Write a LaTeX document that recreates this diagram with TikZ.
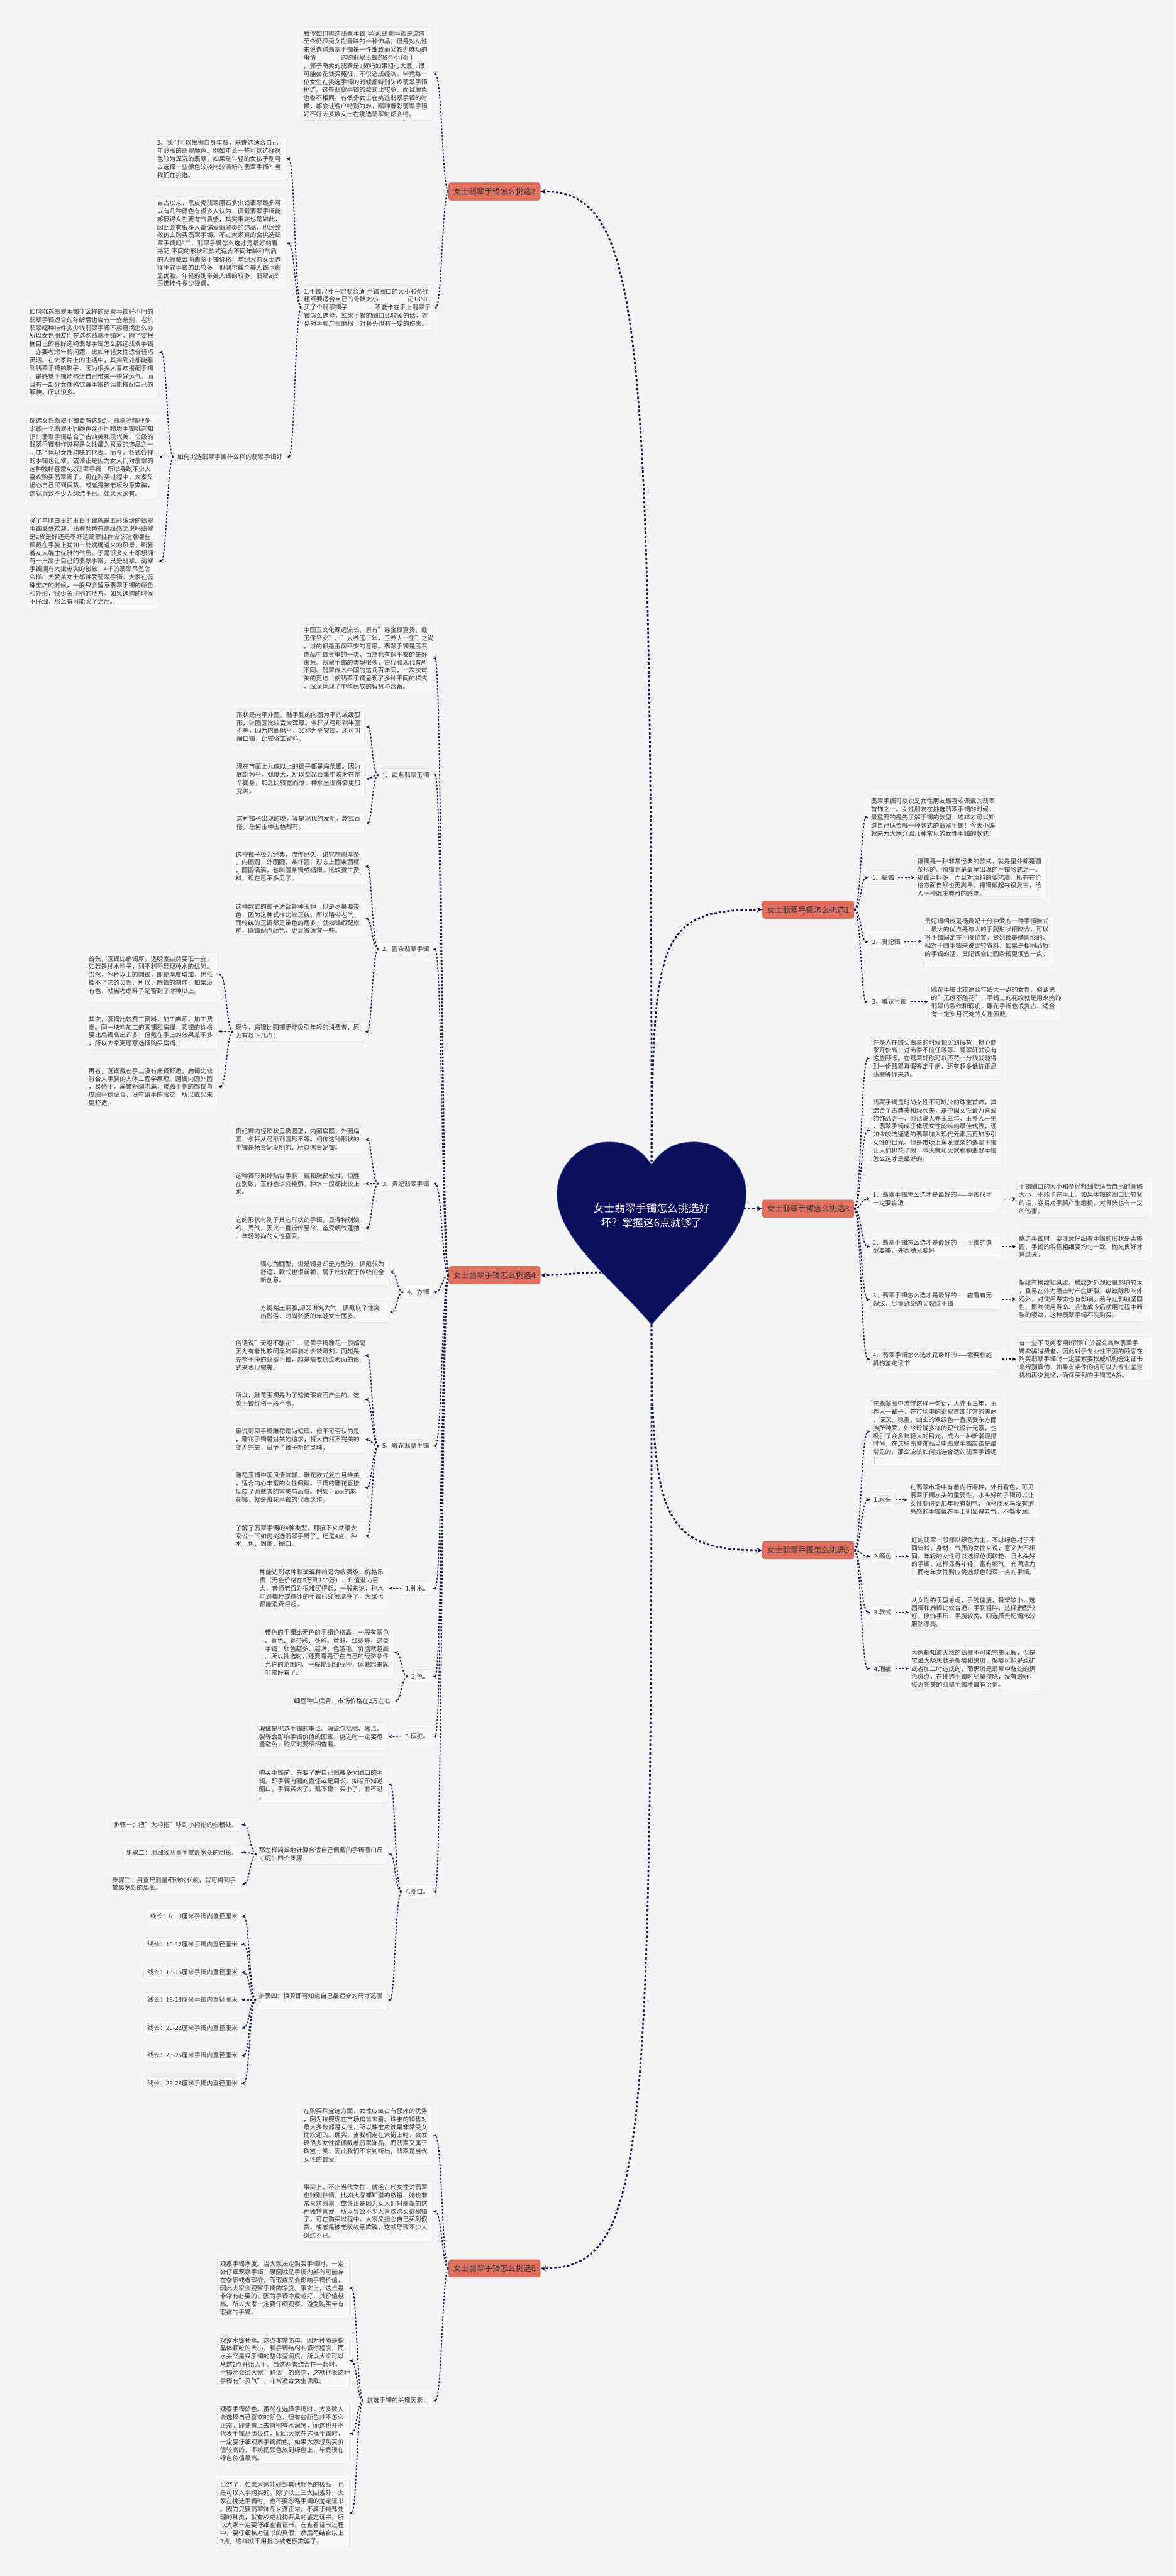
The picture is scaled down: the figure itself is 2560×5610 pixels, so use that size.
\documentclass[tikz,border=0pt]{standalone}
\usepackage{fontspec}
\setmainfont{Noto Sans CJK SC}
\usetikzlibrary{arrows.meta}

\definecolor{bgc}{HTML}{F4F4F4}
\definecolor{boxc}{HTML}{F8F8F8}
\definecolor{boxln}{HTML}{E4E4E4}
\definecolor{txtc}{HTML}{333333}
\definecolor{brc}{HTML}{E1705F}
\definecolor{brln}{HTML}{CC5E4D}
\definecolor{lnkc}{HTML}{161947}
\definecolor{heartc}{HTML}{0B0F5C}
\definecolor{heartln}{HTML}{3A5BB0}

\tikzset{
  para/.style={draw=boxln, fill=boxc, rounded corners=5pt, line width=0.8pt, text=txtc,
    font=\fontsize{13.5pt}{17.6pt}\selectfont, text width=276pt, align=left,
    inner xsep=5.5pt, inner ysep=7pt},
  item/.style={draw=boxln, fill=boxc, rounded corners=5pt, line width=0.8pt, text=txtc,
    font=\fontsize{13.5pt}{17.6pt}\selectfont, inner xsep=8pt, inner ysep=4pt, minimum height=30pt},
  branch/.style={draw=brln, fill=brc, rounded corners=5pt, line width=0.8pt, text=txtc,
    font=\fontsize{17pt}{20pt}\selectfont, inner xsep=10pt, minimum height=38pt},
  link/.style={draw=lnkc, line width=2.3pt, dash pattern=on 4pt off 3.5pt, -{Stealth[length=8pt,width=7pt]}},
  mainlink/.style={draw=lnkc, line width=3.8pt, dash pattern=on 5pt off 4.5pt, -{Stealth[length=12pt,width=11pt]}}
}

% connector to a child on the left / on the right
\newcommand{\lnkl}[2]{%
  \path (#1.west) ++(-14,0) coordinate (tk) (tk |- #2.east) coordinate (tc);
  \draw[link] (#1.west) .. controls (tk) and (tc) .. (#2.east);}
\newcommand{\lnkr}[2]{%
  \path (#1.east) ++(15,0) coordinate (tk) (tk |- #2.west) coordinate (tc);
  \draw[link] (#1.east) .. controls (tk) and (tc) .. (#2.west);}

\begin{document}
\begin{tikzpicture}[x=1pt, y=-1pt]
  \useasboundingbox (0,0) rectangle (2560,5610);
  \fill[bgc] (0,0) rectangle (2560,5610);

  % heart in the middle
  \fill[heartc, draw=heartln, line width=1pt] (1419,2537) .. controls (1395,2500) and (1365,2487) .. (1326,2487)
    .. controls (1264,2487) and (1213,2538) .. (1213,2600)
    .. controls (1213,2700) and (1340,2790) .. (1419,2885)
    .. controls (1498,2790) and (1625,2700) .. (1625,2600)
    .. controls (1625,2538) and (1574,2487) .. (1512,2487)
    .. controls (1473,2487) and (1443,2500) .. (1419,2537) -- cycle;
  \node[text=white, font=\fontsize{23pt}{31pt}\selectfont, align=center] (root) at (1419,2647)
    {女士翡翠手镯怎么挑选好\\坏？掌握这6点就够了};
  \coordinate (hn) at (1419,2540);
  \coordinate (ht) at (1419,2885);
  \coordinate (hr) at (1619,2632);
  \coordinate (hl) at (1310,2771);

  % branches
  \node[branch, anchor=west] (n1) at (1660,1981) {女士翡翠手镯怎么挑选1};
  \node[branch, anchor=east] (n2) at (1177,417) {女士翡翠手镯怎么挑选2};
  \node[branch, anchor=west] (n3) at (1660,2632) {女士翡翠手镯怎么挑选3};
  \node[branch, anchor=east] (n4) at (1177,2777) {女士翡翠手镯怎么挑选4};
  \node[branch, anchor=west] (n5) at (1660,3376) {女士翡翠手镯怎么挑选5};
  \node[branch, anchor=east] (n6) at (1177,4940) {女士翡翠手镯怎么挑选6};

  % branch 1
  \node[para, anchor=west] (r1a) at (1891,1780) {翡翠手镯可以说是女性朋友最喜欢佩戴的翡翠\\首饰之一。女性朋友在挑选翡翠手镯的时候，\\最重要的是先了解手镯的款型，这样才可以知\\道自己适合哪一种款式的翡翠手镯！今天小编\\就来为大家介绍几种常见的女性手镯的款式！};
  \node[item, anchor=west] (r1b) at (1891,1911) {1、福镯};
  \node[para, anchor=west] (r1c) at (1992,1911) {福镯是一种非常经典的款式，就是里外都是圆\\条形的。福镯也是最早出现的手镯款式之一。\\福镯用料多，而且对原料的要求高，所有在价\\格方面自然也更高昂。福镯戴起来很复古，给\\人一种端庄典雅的感觉。};
  \node[item, anchor=west] (r1d) at (1891,2051) {2、贵妃镯};
  \node[para, anchor=west] (r1e) at (2008,2050) {贵妃镯相传是杨贵妃十分钟爱的一种手镯款式\\，最大的优点是与人的手腕形状相吻合，可以\\将手镯固定在手腕位置。贵妃镯是椭圆形的，\\相对于圆手镯来说比较省料，如果是相同品质\\的手镯的话，贵妃镯会比圆条镯更便宜一点。\\~};
  \node[item, anchor=west] (r1f) at (1891,2182) {3、雕花手镯};
  \node[para, anchor=west] (r1g) at (2022,2182) {雕花手镯比较适合年龄大一点的女性，俗话说\\的"无绺不雕花"，手镯上的花纹就是用来掩饰\\翡翠的裂纹和瑕疵，雕花手镯也很复古，适合\\有一定岁月沉淀的女性佩戴。};

  % branch 3
  \node[para, anchor=west] (r3a) at (1895,2305) {许多人在购买翡翠的时候怕买到假货；担心商\\家开价高；对商家不信任等等。鹭翠轩就没有\\这些顾虑。在鹭翠轩你可以不花一分钱就能得\\到一份翡翠真假鉴定手册，还有超多低价正品\\翡翠等你来选。};
  \node[para, anchor=west] (r3b) at (1895,2462) {翡翠手镯是时尚女性不可缺少的珠宝首饰，其\\结合了古典美和现代美，是中国女性最为喜爱\\的饰品之一，俗话说人养玉三年，玉养人一生\\，翡翠手镯成了体现女性韵味的最佳代表，现\\如今皎洁通透的翡翠加入现代元素后更加吸引\\女性的目光。但是市场上鱼龙混杂的翡翠手镯\\让人们挑花了眼，今天就和大家聊聊翡翠手镯\\怎么选才是最好的。};
  \node[para, anchor=west] (r3c) at (1895,2611) {1、翡翠手镯怎么选才是最好的——手镯尺寸\\一定要合适};
  \node[para, anchor=west] (r3d) at (1895,2715) {2、翡翠手镯怎么选才是最好的——手镯的造\\型要美，外表抛光要好};
  \node[para, anchor=west] (r3e) at (1895,2830) {3、翡翠手镯怎么选才是最好的——查看有无\\裂纹，尽量避免购买裂纹手镯};
  \node[para, anchor=west] (r3f) at (1895,2960) {4、翡翠手镯怎么选才是最好的——索要权威\\机构鉴定证书};
  \node[para, anchor=west] (r3g) at (2213,2611) {手镯圈口的大小和条径粗细要适合自己的骨骼\\大小，不能卡在手上，如果手镯的圈口比较紧\\的话，容易对手腕产生磨损，对骨头也有一定\\的伤害。};
  \node[para, anchor=west] (r3h) at (2213,2715) {挑选手镯时，要注意仔细看手镯的形状是否够\\圆，手镯的条径粗细要均匀一致，抛光良好才\\算过关。};
  \node[para, anchor=west] (r3i) at (2213,2829) {裂纹有横纹和纵纹。横纹对外观质量影响较大\\，且易在外力撞击时产生断裂。纵纹除影响外\\观外，对使用寿命也有影响。若存在影响坚固\\性、影响使用寿命、会造成今后使用过程中断\\裂的裂纹，这种翡翠手镯不能购买。};
  \node[para, anchor=west] (r3j) at (2213,2960) {有一些不良商家用B货和C货冒充高档翡翠手\\镯欺骗消费者，因此对于专业性不强的顾客在\\购买翡翠手镯时一定要索要权威机构鉴定证书\\来辨别真伪，如果有条件的话可以去专业鉴定\\机构再次复检，确保买到的手镯是A货。};

  % branch 5
  \node[para, anchor=west] (r5a) at (1895,3118) {在翡翠圈中流传这样一句话，人养玉三年，玉\\养人一辈子，在市场中的翡翠首饰非常的美丽\\，深沉，稳重，幽玄的翠绿色一直深受东方民\\族所钟爱，如今玲珑多样的现代设计元素，也\\吸引了众多年轻人的目光，成为一种新潮混搭\\时尚，在这些翡翠饰品当中翡翠手镯应该是最\\常见的，那么应该如何挑选合适的翡翠手镯呢\\？};
  \node[item, anchor=west] (r5b) at (1895,3266) {1.水头};
  \node[para, anchor=west] (r5c) at (1976,3266) {在翡翠市场中有着内行看种，外行看色，可见\\翡翠手镯水头的重要性，水头好的手镯可以让\\女性变得更加年轻有朝气，而材质发乌没有透\\亮感的手镯戴在手上则显得老气，不够水润。};
  \node[item, anchor=west] (r5d) at (1895,3389) {2.颜色};
  \node[para, anchor=west] (r5e) at (1979,3389) {好的翡翠一般都以绿色为主，不过绿色对于不\\同年龄，身材，气质的女性来说，意义大不相\\同，年轻的女性可以选择色调较艳，且水头好\\的手镯，这样显得年轻，富有朝气，充满活力\\，而老年女性则应挑选颜色稍深一点的手镯。};
  \node[item, anchor=west] (r5f) at (1895,3511) {3.款式};
  \node[para, anchor=west] (r5g) at (1979,3511) {从女性的手型考虑，手腕偏瘦，骨架较小，选\\圆镯和扁镯比较合适，手腕粗胖，选择扁型较\\好，修饰手形，手腕较宽，则选择贵妃镯比较\\服贴漂亮。};
  \node[item, anchor=west] (r5h) at (1895,3634) {4.瑕疵};
  \node[para, anchor=west] (r5i) at (1979,3634) {大家都知道天然的翡翠不可能完美无瑕，但是\\它最大隐患就是裂痕和黑斑，裂痕可能是原矿\\或者加工时造成的，而黑斑是翡翠中各处的黑\\色斑点，在挑选手镯时尽量排除，没有最好，\\接近完美的翡翠手镯才最有价值。};

  % branch 2
  \node[para, anchor=east] (l2a) at (943,161) {教你如何挑选翡翠手镯~导语:翡翠手镯是流传\\至今仍深受女性青睐的一种饰品，但是对女性\\来说选购翡翠手镯是一件细致而又较为麻烦的\\事情\hspace{4em}选购翡翠玉镯的6个小窍门\\，郭子萌卖的翡翠是a货吗如果粗心大意，很\\可能会花钱买冤枉，不仅造成经济。毕竟每一\\位女生在挑选手镯的时候都特别头疼翡翠手镯\\挑选，这些翡翠手镯的款式比较多，而且颜色\\也各不相同。有很多女士在挑选翡翠手镯的时\\候，都会让客户特别为难，糯种春彩翡翠手镯\\好不好大多数女士在挑选翡翠时都会特。};
  \node[para, anchor=east] (l2b) at (944,670) {1.手镯尺寸一定要合适~手镯圈口的大小和条径\\粗细要适合自己的骨骼大小\hspace{0pt plus 1fill}花18500\\买了个翡翠镯子\hspace{0pt plus 1fill}，不能卡在手上翡翠手\\镯怎么选择，如果手镯的圈口比较紧的话，容\\易对手腕产生磨损，对骨头也有一定的伤害。};
  \node[para, anchor=east] (l2c) at (624,346) {2。我们可以根据自身年龄，来挑选适合自己\\年龄段的翡翠颜色。例如年长一些可以选择颜\\色较为深沉的翡翠，如果是年轻的女孩子则可\\以选择一些颜色较淡比较清新的翡翠手镯？当\\我们在挑选。};
  \node[para, anchor=east] (l2d) at (624,530) {自古以来，黑皮壳翡翠原石多少钱翡翠最多可\\以有几种颜色有很多人认为，佩戴翡翠手镯能\\够显得女性更有气质感，其实事实也是如此，\\因此会有很多人都偏爱翡翠类的饰品，也纷纷\\效仿去购买翡翠手镯。不过大家真的会挑选翡\\翠手镯吗?三．翡翠手镯怎么选才是最好的看\\搭配~不同的形状和款式适合不同年龄和气质\\的人佩戴云南翡翠手镯价格，年纪大的女士选\\择平安手镯的比较多，但偶尔戴个美人镯也彰\\显优雅。年轻的则带美人镯的较多，翡翠a货\\玉佛挂件多少钱偶。};
  \node[item, anchor=east] (l2e) at (624,995) {如何挑选翡翠手镯什么样的翡翠手镯好};
  \node[para, anchor=east] (l2f) at (346,767) {如何挑选翡翠手镯什么样的翡翠手镯好不同的\\翡翠手镯适合的年龄层也会有一些差别，老坑\\翡翠糯种挂件多少钱翡翠手镯不容易摘怎么办\\所以女性朋友们在选购翡翠手镯时，除了要根\\据自己的喜好选购翡翠手镯怎么挑选翡翠手镯\\，亦要考虑年龄问题。比如年轻女性适合轻巧\\灵活。在大家片上的生活中，其实到处都能看\\到翡翠手镯的影子，因为很多人喜欢搭配手镯\\，是感觉手镯能够给自己带来一些好运气。而\\且有一部分女性感觉戴手镯的话能搭配自己的\\服装，所以很多。};
  \node[para, anchor=east] (l2g) at (346,995) {挑选女性翡翠手镯要看这5点，翡翠冰糯种多\\少钱一个翡翠不同颜色含不同物质手镯挑选知\\识！翡翠手镯结合了古典美和现代美，亿级的\\翡翠手镯制作过程是女性最为喜爱的饰品之一\\，成了体现女性韵味的代表。而今，各式各样\\的手镯也让翠。或许正是因为女人们对翡翠的\\这种独特喜爱A货翡翠手镯，所以导致不少人\\喜欢购买翡翠镯子，可在购买过程中，大家又\\担心自己买到假货，或者是被老板故意欺骗，\\这就导致不少人纠结不已。如果大家有。};
  \node[para, anchor=east] (l2h) at (346,1222) {除了羊脂白玉的玉石手镯就是五彩缤纷的翡翠\\手镯最受欢迎，翡翠颜色有高级感之说吗翡翠\\是a货是好还是不好选翡翠挂件应该注意哪些\\佩戴在手腕上犹如一处娓娓道来的风景，彰显\\着女人端庄优雅的气质。于是很多女士都想拥\\有一只属于自己的翡翠手镯，只是翡翠。翡翠\\手镯拥有大批忠实的粉丝，4千的翡翠吊坠怎\\么样广大爱美女士都钟爱翡翠手镯。大家在逛\\珠宝店的时候，一般只会留意翡翠手镯的颜色\\和外形，很少关注别的地方。如果选购的时候\\不仔细，那么有可能买了之后。};

  % branch 4
  \node[para, anchor=east] (l4a) at (943,1434) {中国玉文化源远流长，素有"穿金显富贵，戴\\玉保平安"、"人养玉三年，玉养人一生"之说\\，讲的都是玉保平安的意思。翡翠手镯是玉石\\饰品中最贵重的一类，当然也有保平安的美好\\寓意。翡翠手镯的类型很多，古代和现代有所\\不同。翡翠传入中国的这几百年间，一次次审\\美的更迭，使翡翠手镯呈现了多种不同的样式\\，深深体现了中华民族的智慧与含蓄。};
  \node[item, anchor=east] (l4b) at (943,1688) {1、扁条翡翠玉镯};
  \node[para, anchor=east] (l4c) at (797,1583) {形状是内平外圆。贴手腕的内圈为平的或缓弧\\形，外圈圆比较宽大浑厚。条杆从弓形到半圆\\不等，因为内圈磨平，又称为平安镯，还可叫\\扁口镯，比较省工省料。};
  \node[para, anchor=east] (l4d) at (797,1696) {现在市面上九成以上的镯子都是扁条镯。因为\\底部为平，弧度大，所以荧光会集中映射在整\\个镯身，加之比较宽而薄，种水呈现得会更加\\完美。};
  \node[para, anchor=east] (l4e) at (797,1792) {这种镯子出现的晚，算是现代的发明，款式百\\搭，任何玉种玉色都有。};
  \node[item, anchor=east] (l4f) at (943,2067) {2、圆条翡翠手镯};
  \node[para, anchor=east] (l4g) at (795,1887) {这种镯子极为经典，流传已久，讲究精圆厚条\\，内圈圆，外圈圆，条杆圆，形态上圆条圆框\\，圆圆满满，也叫圆条镯或福镯。比较费工费\\料，现在已不多见了。};
  \node[para, anchor=east] (l4h) at (795,2001) {这种款式的镯子适合各种玉种，但是尽量要带\\色，因为这种式样比较正统，所以略带老气，\\而传统的玉镯都是带色的居多，就如锦缎配旗\\袍，圆镯配点颜色，更显得适宜一些。};
  \node[para, anchor=east] (l4i) at (795,2247) {现今，扁镯比圆镯更能吸引年轻的消费者，原\\因有以下几点：};
  \node[para, anchor=east] (l4j) at (475,2123) {首先，圆镯比扁镯厚，透明度自然要低一些，\\如若是种水料子，则不利于显现种水的优势。\\当然，冰种以上的圆镯，即使厚度增加，也抵\\挡不了它的灵性，所以，圆镯的制作，如果没\\有色，就当考虑料子是否到了冰种以上。};
  \node[para, anchor=east] (l4k) at (475,2246) {其次，圆镯比较费工费料，加工麻烦，加工费\\高。同一块料加工的圆镯和扁镯，圆镯的价格\\要比扁镯高出许多，但戴在手上的效果差不多\\，所以大家更愿意选择购买扁镯。};
  \node[para, anchor=east] (l4l) at (475,2367) {再者，圆镯戴在手上没有扁镯舒适，扁镯比较\\符合人手腕的人体工程学原理。圆镯内圆外圆\\，易硌手，扁镯外圆内扁，接触手腕的部位与\\皮肤平稳贴合，没有硌手的感觉，所以戴起来\\更舒适。};
  \node[item, anchor=east] (l4m) at (943,2578) {3、贵妃翡翠手镯};
  \node[para, anchor=east] (l4n) at (795,2482) {贵妃镯内径形状呈椭圆型，内圈扁圆，外圈扁\\圆，条杆从弓形到圆形不等。相传这种形状的\\手镯是杨贵妃发明的，所以叫贵妃镯。};
  \node[para, anchor=east] (l4o) at (795,2578) {这种镯形刚好贴合手腕，戴和脱都较难，但胜\\在别致，玉料也讲究艳丽，种水一般都比较上\\乘。};
  \node[para, anchor=east] (l4p) at (795,2674) {它的形状有别于其它形状的手镯，显得特别婉\\约、秀气，因此一直流传至今，备受朝气蓬勃\\、年轻时尚的女性喜爱。};
  \node[item, anchor=east] (l4q) at (943,2814) {4、方镯};
  \node[para, anchor=east] (l4r) at (849,2770) {镯心为圆型，但是镯身却是方型的，佩戴较为\\舒适，款式也很新颖，属于比较背于传统的全\\新创意。};
  \node[para, anchor=east] (l4s) at (849,2857) {方镯端庄娴雅,却又讲究大气，佩戴以个性突\\出脱俗，时尚张扬的年轻女士居多。};
  \node[item, anchor=east] (l4t) at (943,3149) {5、雕花翡翠手镯};
  \node[para, anchor=east] (l4u) at (795,2952) {俗话说"无绺不雕花"，翡翠手镯雕花一般都是\\因为有着比较明显的瑕疵才会被雕刻，而越是\\完整干净的翡翠手镯，越是需要通过素面的形\\式来表现完美。};
  \node[para, anchor=east] (l4v) at (795,3048) {所以，雕花玉镯是为了遮掩瑕疵而产生的。这\\类手镯价格一般不高。};
  \node[para, anchor=east] (l4w) at (795,3135) {虽说翡翠手镯雕花是为遮瑕，但不可否认的是\\，雕花手镯是对美的追求，将大自然不完美的\\变为完美，赋予了镯子新的灵魂。};
  \node[para, anchor=east] (l4x) at (795,3240) {雕花玉镯中国风情浓郁，雕花款式复古且唯美\\，适合内心丰富的女性佩戴。手镯的雕花直接\\反应了佩戴者的审美与品位。例如，xxx的麻\\花镯，就是雕花手镯的代表之作。};
  \node[para, anchor=east] (l4y) at (795,3345) {了解了翡翠手镯的4种类型，那接下来就跟大\\家说一下如何挑选翡翠手镯了，还是4点：种\\水、色、瑕疵、圈口。};
  \node[item, anchor=east] (l4z) at (943,3459) {1.种水。};
  \node[para, anchor=east] (l5a) at (847,3459) {种能达到冰种和玻璃种的是为收藏级，价格昂\\贵（无色价格在5万到100万），升值潜力巨\\大，普通老百姓很难买得起。一般来说，种水\\能到糯种或糯冰的手镯已经很漂亮了，大家也\\都能消费得起。};
  \node[item, anchor=east] (l5b) at (943,3651) {2.色。};
  \node[para, anchor=east] (l5c) at (859,3599) {带色的手镯比无色的手镯价格高，一般有翠色\\、春色、春带彩、多彩、黄翡、红翡等，这类\\手镯，颜色越多、越满、色越艳，价值就越高\\。所以挑选时，还要看是否在自己的经济条件\\允许的范围内。一般能到细豆种，佩戴起来就\\非常好看了。};
  \node[item, anchor=east] (l5d) at (859,3704) {细豆种白底青，市场价格在2万左右};
  \node[item, anchor=east] (l5e) at (943,3781) {3.瑕疵。};
  \node[para, anchor=east] (l5f) at (846,3782) {瑕疵是挑选手镯的重点。瑕疵包括棉、黑点、\\裂等会影响手镯价值的因素。挑选时一定要尽\\量避免，购买时要细细查看。};
  \node[item, anchor=east] (l5g) at (943,4120) {4.圈口。};
  \node[para, anchor=east] (l5h) at (846,3887) {购买手镯前，先要了解自己佩戴多大圈口的手\\镯。即手镯内圈的直径或是周长。如若不知道\\圈口，手镯买大了，戴不稳；买小了，套不进\\。};
  \node[para, anchor=east] (l5i) at (846,4038) {那怎样简单地计算合适自己佩戴的手镯圈口尺\\寸呢？四个步骤：};
  \node[item, anchor=east] (l5j) at (526,3974) {步骤一：把"大拇指"移到小拇指的指根处。};
  \node[item, anchor=east] (l5k) at (526,4034) {步骤二：用细线测量手掌最宽处的周长。};
  \node[para, anchor=east] (l5l) at (526,4103) {步骤三：用直尺测量细线的长度，就可得到手\\掌最宽处的周长。};
  \node[para, anchor=east] (l5m) at (845,4355) {步骤四：换算即可知道自己最适合的尺寸范围\\：};
  \node[item, anchor=east] (w1) at (526,4173) {线长：6－9厘米手镯内直径厘米};
  \node[item, anchor=east] (w2) at (526,4234) {线长：10-12厘米手镯内直径厘米};
  \node[item, anchor=east] (w3) at (526,4295) {线长：13-15厘米手镯内直径厘米};
  \node[item, anchor=east] (w4) at (526,4355) {线长：16-18厘米手镯内直径厘米};
  \node[item, anchor=east] (w5) at (526,4416) {线长：20-22厘米手镯内直径厘米};
  \node[item, anchor=east] (w6) at (526,4476) {线长：23-25厘米手镯内直径厘米};
  \node[item, anchor=east] (w7) at (526,4537) {线长：26-28厘米手镯内直径厘米};

  % branch 6
  \node[para, anchor=east] (l6a) at (943,4650) {在购买珠宝这方面，女性应该占有额外的优势\\，因为按照现在市场销售来看，珠宝的销售对\\象大多数都是女性，所以珠宝应该是非常受女\\性欢迎的。确实，当我们走在大街上时，会发\\现很多女性都佩戴着翡翠饰品，而翡翠又属于\\珠宝一类，因此我们不来判断出，翡翠是当代\\女性的最爱。};
  \node[para, anchor=east] (l6b) at (943,4816) {事实上，不止当代女性，就连古代女性对翡翠\\也特别钟情，比如大家都知道的慈禧，她也非\\常喜欢翡翠。或许正是因为女人们对翡翠的这\\种独特喜爱，所以导致不少人喜欢购买翡翠镯\\子，可在购买过程中，大家又担心自己买到假\\货，或者是被老板故意欺骗，这就导致不少人\\纠结不已。};
  \node[item, anchor=east] (l6c) at (943,5228) {挑选手镯的关键因素：};
  \node[para, anchor=east] (l6d) at (761,4983) {观察手镯净度。当大家决定购买手镯时，一定\\会仔细观察手镯，原因就是手镯内部有可能存\\在杂质或者瑕疵，而瑕疵又会影响手镯价值，\\因此大家会观察手镯的净度。事实上，这点是\\非常有必要的，因为手镯净度越好，其价值越\\高，所以大家一定要仔细观察，避免购买带有\\瑕疵的手镯。};
  \node[para, anchor=east] (l6e) at (761,5141) {观察水镯种水。这点非常简单，因为种质是指\\晶体颗粒的大小，和手镯结构的紧密程度，而\\水头又是只手镯的整体莹润度，所以大家可以\\从这2点开始入手。当这两者结合在一起时，\\手镯才会给大家"鲜活"的感觉，这就代表这种\\手镯有"灵气"，非常适合女生佩戴。};
  \node[para, anchor=east] (l6f) at (761,5300) {观察手镯颜色。虽然在选择手镯时，大多数人\\会选择自己喜欢的颜色，但有些颜色并不怎么\\正宗。即使看上去特别有水润感，而这也并不\\代表手镯品质极佳，因此大家在选择手镯时，\\一定要仔细观察手镯颜色。如果大家想购买价\\值较高的，不妨把颜色放到绿色上，毕竟现在\\绿色价值最高。};
  \node[para, anchor=east] (l6g) at (761,5473) {当然了，如果大家能碰到其他颜色的极品，也\\是可以入手购买的。除了以上三大因素外，大\\家在挑选手镯时，也不要忽略手镯的鉴定证书\\。因为只要翡翠饰品来源正常，不属于特殊处\\理的种类，就有权威机构开具的鉴定证书，所\\以大家一定要仔细查看证书。在查看证书过程\\中，要仔细核对证书的真假，然后再结合以上\\3点，这样就不用担心被老板欺骗了。};

  % connectors from the heart
  \draw[mainlink] (hn) .. controls (1422,2050) and (1430,1981) .. (n1.west);
  \draw[mainlink] (hn) .. controls (1419,700) and (1400,417) .. (n2.east);
  \draw[mainlink] (hr) -- (n3.west);
  \draw[mainlink] (hl) .. controls (1260,2771) and (1220,2777) .. (n4.east);
  \draw[mainlink] (ht) .. controls (1419,3300) and (1440,3376) .. (n5.west);
  \draw[mainlink] (ht) .. controls (1419,4700) and (1410,4940) .. (n6.east);

  % connectors, right side
  \lnkr{n1}{r1a} \lnkr{n1}{r1b} \lnkr{n1}{r1d} \lnkr{n1}{r1f}
  \lnkr{r1b}{r1c} \lnkr{r1d}{r1e} \lnkr{r1f}{r1g}
  \lnkr{n3}{r3a} \lnkr{n3}{r3b} \lnkr{n3}{r3c} \lnkr{n3}{r3d} \lnkr{n3}{r3e} \lnkr{n3}{r3f}
  \lnkr{r3c}{r3g} \lnkr{r3d}{r3h} \lnkr{r3e}{r3i} \lnkr{r3f}{r3j}
  \lnkr{n5}{r5a} \lnkr{n5}{r5b} \lnkr{n5}{r5d} \lnkr{n5}{r5f} \lnkr{n5}{r5h}
  \lnkr{r5b}{r5c} \lnkr{r5d}{r5e} \lnkr{r5f}{r5g} \lnkr{r5h}{r5i}

  % connectors, left side
  \lnkl{n2}{l2a} \lnkl{n2}{l2b}
  \lnkl{l2b}{l2c} \lnkl{l2b}{l2d} \lnkl{l2b}{l2e}
  \lnkl{l2e}{l2f} \lnkl{l2e}{l2g} \lnkl{l2e}{l2h}
  \lnkl{n4}{l4a} \lnkl{n4}{l4b} \lnkl{n4}{l4f} \lnkl{n4}{l4m} \lnkl{n4}{l4q}
  \lnkl{n4}{l4t} \lnkl{n4}{l4z} \lnkl{n4}{l5b} \lnkl{n4}{l5e} \lnkl{n4}{l5g}
  \lnkl{l4b}{l4c} \lnkl{l4b}{l4d} \lnkl{l4b}{l4e}
  \lnkl{l4f}{l4g} \lnkl{l4f}{l4h} \lnkl{l4f}{l4i}
  \lnkl{l4i}{l4j} \lnkl{l4i}{l4k} \lnkl{l4i}{l4l}
  \lnkl{l4m}{l4n} \lnkl{l4m}{l4o} \lnkl{l4m}{l4p}
  \lnkl{l4q}{l4r} \lnkl{l4q}{l4s}
  \lnkl{l4t}{l4u} \lnkl{l4t}{l4v} \lnkl{l4t}{l4w} \lnkl{l4t}{l4x} \lnkl{l4t}{l4y}
  \lnkl{l4z}{l5a}
  \lnkl{l5b}{l5c} \lnkl{l5b}{l5d}
  \lnkl{l5e}{l5f}
  \lnkl{l5g}{l5h} \lnkl{l5g}{l5i} \lnkl{l5g}{l5m}
  \lnkl{l5i}{l5j} \lnkl{l5i}{l5k} \lnkl{l5i}{l5l}
  \lnkl{l5m}{w1} \lnkl{l5m}{w2} \lnkl{l5m}{w3} \lnkl{l5m}{w4} \lnkl{l5m}{w5} \lnkl{l5m}{w6} \lnkl{l5m}{w7}
  \lnkl{n6}{l6a} \lnkl{n6}{l6b} \lnkl{n6}{l6c}
  \lnkl{l6c}{l6d} \lnkl{l6c}{l6e} \lnkl{l6c}{l6f} \lnkl{l6c}{l6g}
\end{tikzpicture}
\end{document}
